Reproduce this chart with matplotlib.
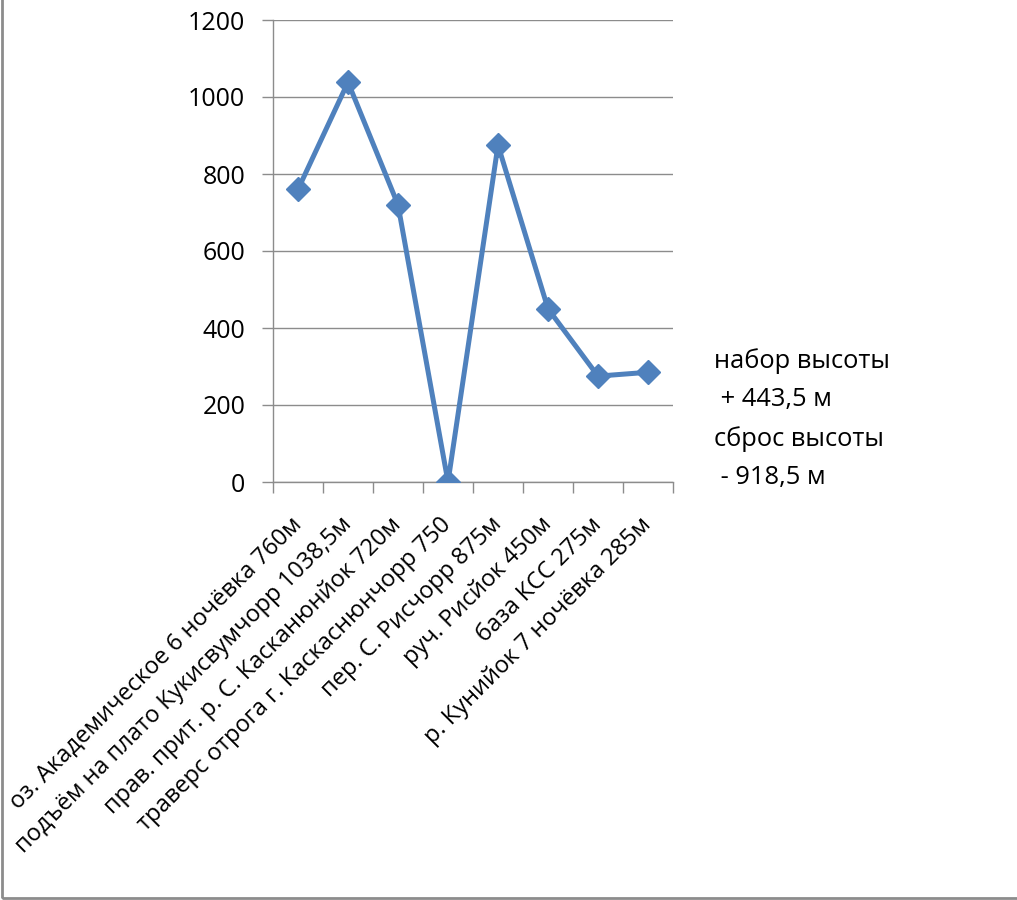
import numpy as np
import matplotlib
matplotlib.use('Agg')
import matplotlib.pyplot as plt
from matplotlib.patches import Rectangle

plt.rcParams['font.family'] = ['Open Sans', 'DejaVu Sans']

# точки маршрута и высоты
places = ['оз. Академическое 6 ночёвка 760м',
          'подъём на плато Кукисвумчорр 1038,5м',
          'прав. прит. р. С. Касканюнйок 720м',
          'траверс отрога г. Каскаснюнчорр 750',
          'пер. С. Рисчорр 875м',
          'руч. Рисйок 450м',
          'база КСС 275м',
          'р. Кунийок 7 ночёвка 285м']
heights = [760, 1038.5, 720, 0, 875, 450, 275, 285]
yticks = [0, 200, 400, 600, 800, 1000, 1200]
note = 'набор высоты\n + 443,5 м\nсброс высоты\n - 918,5 м'

blue = '#4F81BD'
grid = '#8C8C8C'

fig = plt.figure(figsize=(10.17, 9), dpi=100)
ax = fig.add_axes([273/1017, 1-482/900, 400/1017, 462/900])

x = np.arange(len(heights)) + 0.5
ax.plot(x, heights, color=blue, lw=3.6, marker='D', ms=12, mec=blue, mfc=blue, zorder=3)

ax.set_xlim(0, len(heights))
ax.set_ylim(0, 1200)
ax.set_yticks(yticks)
ax.set_yticklabels([str(v) for v in yticks], fontsize=18)
ax.yaxis.grid(True, color=grid, lw=1)
ax.set_axisbelow(True)

ax.set_xticks(np.arange(len(heights)+1))
ax.set_xticklabels([])
ax.set_xticks(x, minor=True)
ax.set_xticklabels(places, minor=True, rotation=45, ha='right',
                   rotation_mode='anchor', va='center', fontsize=17)
ax.tick_params(axis='x', which='minor', length=0, pad=28)
ax.tick_params(axis='x', which='major', length=8, width=1, color=grid, direction='out')
ax.tick_params(axis='y', length=8, width=1, color=grid, direction='out', pad=12)

for s in ['top', 'right']:
    ax.spines[s].set_visible(False)
for s in ['left', 'bottom']:
    ax.spines[s].set_color(grid)
    ax.spines[s].set_linewidth(1)

fig.text(714/1017, 1-348/900, note, fontsize=18.4, va='top', ha='left', linespacing=1.7)

# рамка
fig.patches.append(Rectangle((0.002, 0.002), 1.2, 1.2, transform=fig.transFigure,
                             fill=False, ec='#8C8C8C', lw=2))

fig.savefig('out.png', dpi=100)
